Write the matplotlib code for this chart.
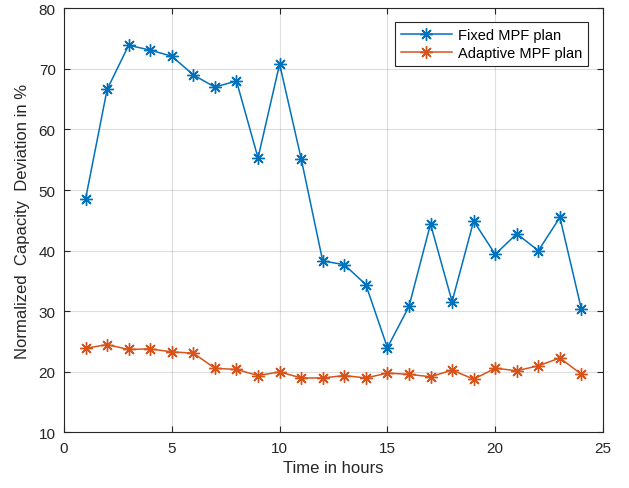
import matplotlib
matplotlib.use("Agg")
import matplotlib.pyplot as plt

hours = list(range(1, 25))
fixed_mpf = [48.5, 66.6, 73.9, 73.1, 72.1, 69.0, 67.0, 68.0, 55.3, 70.8, 55.2, 38.3,
             37.7, 34.4, 24.0, 30.8, 44.4, 31.6, 44.9, 39.4, 42.8, 40.0, 45.5, 30.3]
adaptive_mpf = [23.9, 24.5, 23.7, 23.8, 23.3, 23.1, 20.6, 20.4, 19.4, 20.0, 19.0, 19.0,
                19.4, 19.0, 19.8, 19.6, 19.2, 20.3, 18.8, 20.6, 20.2, 21.0, 22.3, 19.6]
series_labels = ["Fixed MPF plan", "Adaptive MPF plan"]
x_ticks = [0, 5, 10, 15, 20, 25]
y_ticks = [10, 20, 30, 40, 50, 60, 70, 80]

plt.rcParams["font.family"] = ["Liberation Sans", "DejaVu Sans"]
dark = "#262626"
asterisk = (8, 2, 0)

fig = plt.figure(figsize=(6.29, 4.89), dpi=100)
ax = fig.add_axes([0.1017, 0.1135, 0.857, 0.8675])

ax.plot(hours, fixed_mpf, color="#0072BD", marker=asterisk, markersize=9,
        markeredgewidth=1.0, linewidth=1.1, label=series_labels[0])
ax.plot(hours, adaptive_mpf, color="#D95319", marker=asterisk, markersize=9,
        markeredgewidth=1.0, linewidth=1.1, label=series_labels[1])

ax.set_xlim(0, 25)
ax.set_ylim(10, 80)
ax.set_xticks(x_ticks)
ax.set_yticks(y_ticks)
ax.grid(True, color="#262626", alpha=0.15, linewidth=0.8)
ax.set_axisbelow(True)
ax.tick_params(direction="in", length=4, width=0.8, colors=dark, labelsize=11,
               top=True, right=True, labeltop=False, labelright=False, pad=6)
for spine in ax.spines.values():
    spine.set_color(dark)
    spine.set_linewidth(0.8)

ax.set_xlabel("Time in hours", fontsize=12, color=dark, labelpad=4)
ax.set_ylabel("Normalized  Capacity  Deviation in %", fontsize=12, color=dark, labelpad=6)

leg = ax.legend(loc="upper right", bbox_to_anchor=(0.972, 0.968), fontsize=10.5,
                frameon=True, fancybox=False, edgecolor=dark, framealpha=1,
                handlelength=3.5, handletextpad=0.4, borderpad=0.4, labelspacing=0.3,
                borderaxespad=0.0)
leg.get_frame().set_linewidth(0.8)

fig.savefig("out.png", dpi=100)
